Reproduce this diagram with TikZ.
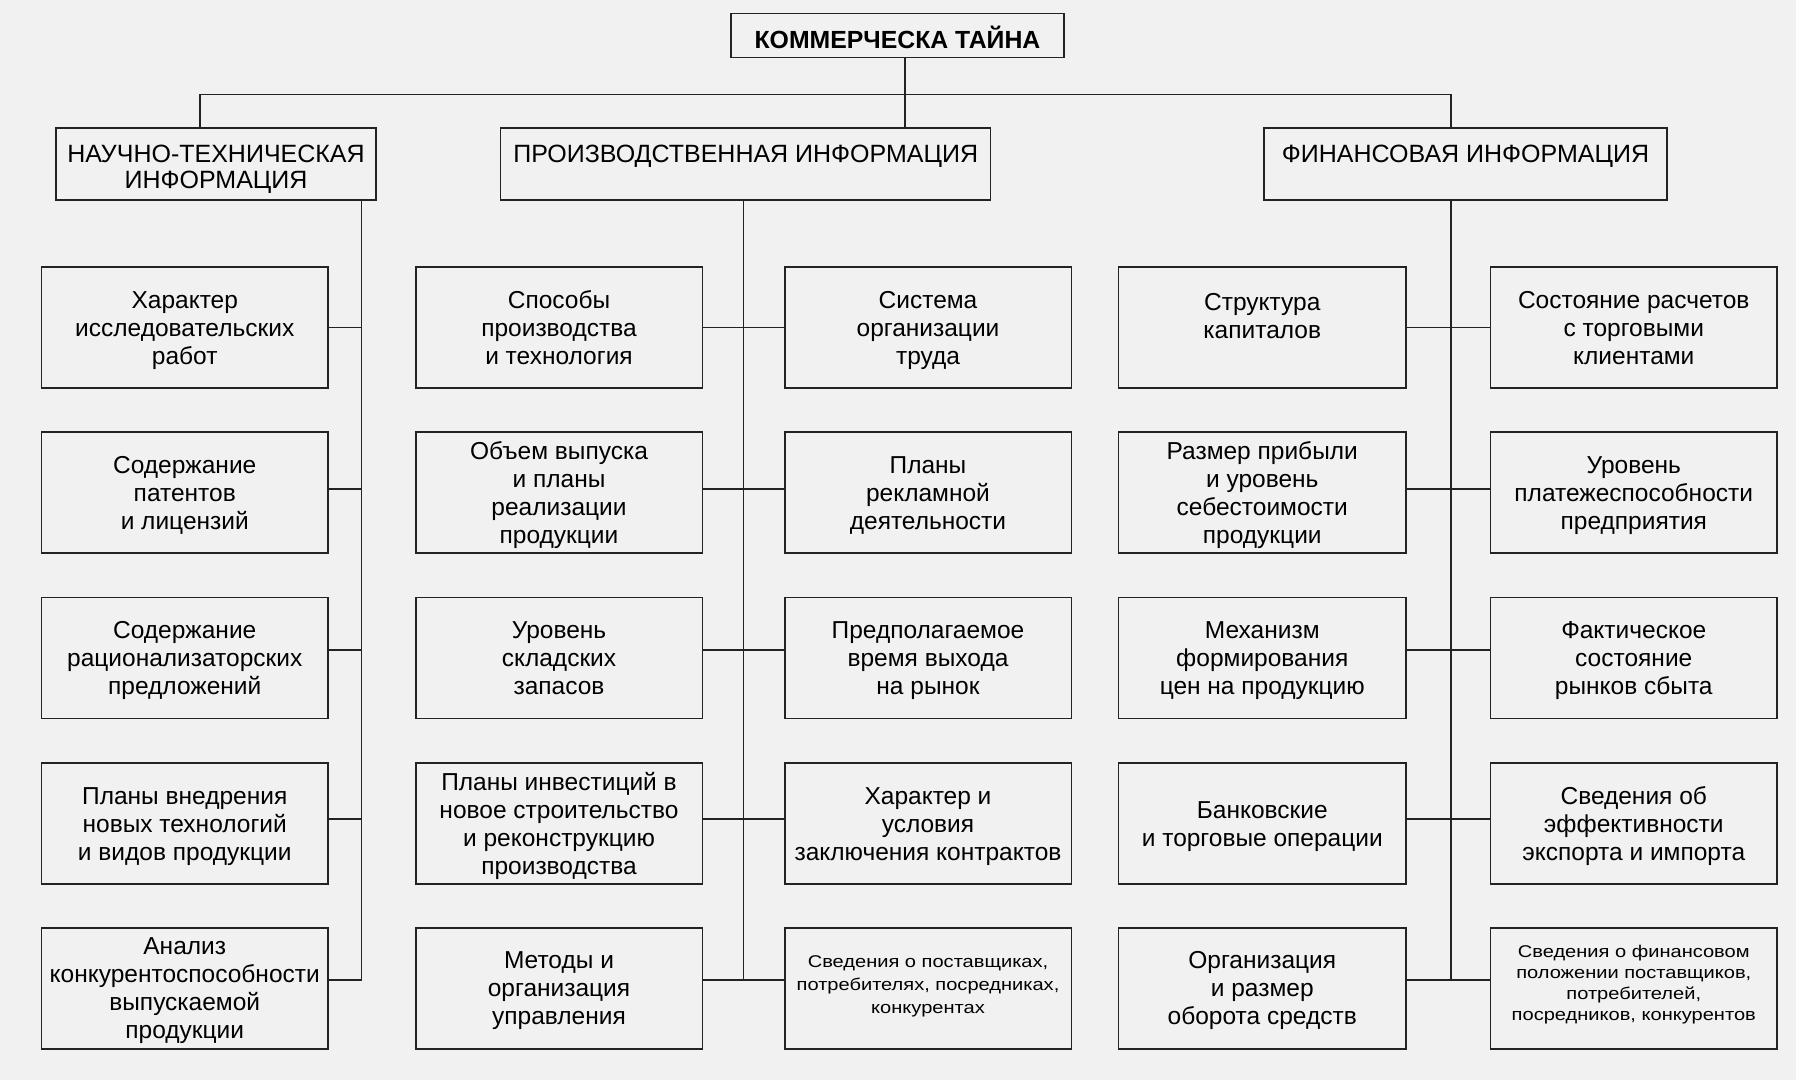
\documentclass[tikz,border=0pt]{standalone}
\usepackage{fontspec}
\setmainfont{Liberation Sans}
\newfontfamily\stretchf[FakeStretch=1.18]{Liberation Sans}
\definecolor{bgc}{RGB}{241,241,241}
\definecolor{ln}{RGB}{35,35,35}
\newcommand\bodyf{\fontsize{24.5}{28}\selectfont}
\newcommand\headf{\fontsize{25}{26}\selectfont}
\newcommand\titf{\fontsize{24.8}{26}\selectfont\bfseries}
\newcommand\smf{\stretchf\fontsize{17}{23}\selectfont}
\newcommand\smrf{\stretchf\fontsize{17}{21}\selectfont}
\newcommand\shifted[2]{\raisebox{#1}[\height][\depth]{#2}}
\newcommand\bx[7][-3pt]{%
  \node[box, minimum width=#5, minimum height=121] (#2) at (#3,#4)
    {\shifted{#1}{#6\begin{tabular}{@{}c@{}}#7\end{tabular}}};}
\begin{document}
\begin{tikzpicture}[x=1pt,y=-1pt,
  box/.style={draw=ln, line width=1.5pt, inner sep=0pt, outer sep=0pt, align=center},
  hbox/.style={draw=ln, line width=1.5pt, inner sep=0pt, outer sep=0pt},
  conn/.style={draw=ln, line width=1.3pt}]
\fill[bgc] (0,0) rectangle (1796,1080);
\useasboundingbox (0,0) rectangle (1796,1080);

% title and headers
\node[hbox, minimum width=333, minimum height=44] (T) at (897.5,35.3)
  {\shifted{-5.5pt}{\titf\begin{tabular}{@{}c@{}}КОММЕРЧЕСКА ТАЙНА\end{tabular}}};
\node[hbox, minimum width=320, minimum height=72] (NT) at (216,164)
  {\shifted{-5.8pt}{\headf\begin{tabular}{@{}c@{}}НАУЧНО-ТЕХНИЧЕСКАЯ\\ИНФОРМАЦИЯ\end{tabular}}};
\node[hbox, minimum width=490, minimum height=72] (PR) at (745.7,164)
  {\shifted{7.2pt}{\headf\begin{tabular}{@{}c@{}}ПРОИЗВОДСТВЕННАЯ ИНФОРМАЦИЯ\end{tabular}}};
\node[hbox, minimum width=403, minimum height=72] (FI) at (1465.5,164)
  {\shifted{7.2pt}{\headf\begin{tabular}{@{}c@{}}ФИНАНСОВАЯ ИНФОРМАЦИЯ\end{tabular}}};

% left column
\bx{L1}{184.75}{327.5}{286.5}{\bodyf}{Характер\\исследовательских\\работ}
\bx{L2}{184.75}{492.5}{286.5}{\bodyf}{Содержание\\патентов\\и лицензий}
\bx{L3}{184.75}{658}{286.5}{\bodyf}{Содержание\\рационализаторских\\предложений}
\bx{L4}{184.75}{823.5}{286.5}{\bodyf}{Планы внедрения\\новых технологий\\и видов продукции}
\bx{L5}{184.75}{988.3}{286.5}{\bodyf}{Анализ\\конкурентоспособности\\выпускаемой\\продукции}

% middle columns
\bx{A1}{559}{327.5}{286.5}{\bodyf}{Способы\\производства\\и технология}
\bx{A2}{559}{492.5}{286.5}{\bodyf}{Объем выпуска\\и планы\\реализации\\продукции}
\bx{A3}{559}{658}{286.5}{\bodyf}{Уровень\\складских\\запасов}
\bx{A4}{559}{823.5}{286.5}{\bodyf}{Планы инвестиций в\\новое строительство\\и реконструкцию\\производства}
\bx{A5}{559}{988.3}{286.5}{\bodyf}{Методы и\\организация\\управления}

\bx{B1}{928}{327.5}{286.5}{\bodyf}{Система\\организации\\труда}
\bx{B2}{928}{492.5}{286.5}{\bodyf}{Планы\\рекламной\\деятельности}
\bx{B3}{928}{658}{286.5}{\bodyf}{Предполагаемое\\время выхода\\на рынок}
\bx{B4}{928}{823.5}{286.5}{\bodyf}{Характер и\\условия\\заключения контрактов}
\bx[2pt]{B5}{928}{988.3}{286.5}{\smf}{Сведения о поставщиках,\\потребителях, посредниках,\\конкурентах}

% right columns
\bx[9pt]{C1}{1262.25}{327.5}{287.5}{\bodyf}{Структура\\капиталов}
\bx{C2}{1262.25}{492.5}{287.5}{\bodyf}{Размер прибыли\\и уровень\\себестоимости\\продукции}
\bx{C3}{1262.25}{658}{287.5}{\bodyf}{Механизм\\формирования\\цен на продукцию}
\bx{C4}{1262.25}{823.5}{287.5}{\bodyf}{Банковские\\и торговые операции}
\bx{C5}{1262.25}{988.3}{287.5}{\bodyf}{Организация\\и размер\\оборота средств}

\bx{D1}{1633.75}{327.5}{286.5}{\bodyf}{Состояние расчетов\\с торговыми\\клиентами}
\bx{D2}{1633.75}{492.5}{286.5}{\bodyf}{Уровень\\платежеспособности\\предприятия}
\bx{D3}{1633.75}{658}{286.5}{\bodyf}{Фактическое\\состояние\\рынков сбыта}
\bx{D4}{1633.75}{823.5}{286.5}{\bodyf}{Сведения об\\эффективности\\экспорта и импорта}
\bx[4pt]{D5}{1633.75}{988.3}{286.5}{\smrf}{Сведения о финансовом\\положении поставщиков,\\потребителей,\\посредников, конкурентов}

% bus
\coordinate (busL) at (200,94.3);
\coordinate (busR) at (1451,94.3);
\coordinate (busT) at (905,94.3);
\draw[conn] (NT.north -| busL) -- (busL) -- (busR) -- (FI.north -| busR);
\draw[conn] (T.south -| busT) -- (PR.north -| busT);

% trunk coordinates
\foreach \r/\y in {1/327.7,2/489,3/650,4/819,5/980}{
  \coordinate (n\r) at (361.7,\y);
  \coordinate (p\r) at (743.4,\y);
  \coordinate (f\r) at (1451,\y);
}
\draw[conn] (NT.south -| n5) -- (n5);
\draw[conn] (PR.south -| p5) -- (p5);
\draw[conn] (FI.south -| f5) -- (f5);
\foreach \r in {1,...,5}{
  \draw[conn] (L\r.east |- n\r) -- (n\r);
  \draw[conn] (A\r.east |- p\r) -- (B\r.west |- p\r);
  \draw[conn] (C\r.east |- f\r) -- (D\r.west |- f\r);
}
\end{tikzpicture}
\end{document}
